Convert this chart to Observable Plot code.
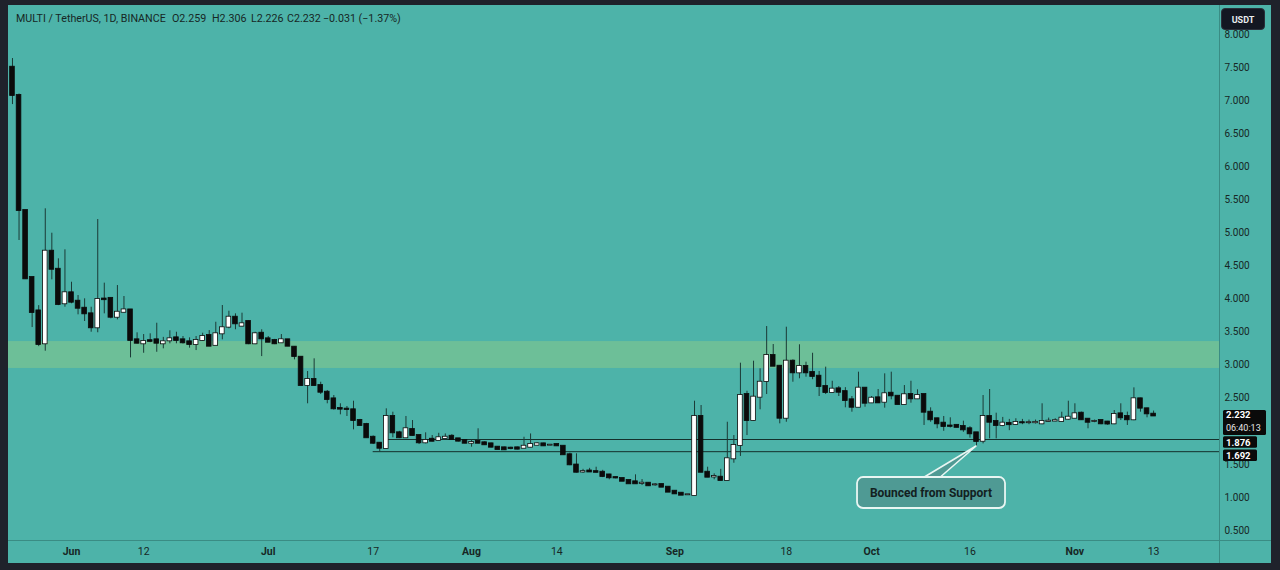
<!DOCTYPE html>
<html>
<head>
<meta charset="utf-8">
<script src="https://cdn.jsdelivr.net/npm/d3@7"></script>
<script src="https://cdn.jsdelivr.net/npm/@observablehq/plot@0.6"></script>
<style>
  html, body { margin: 0; padding: 0; background: #1f222b; }
  #wrap { position: relative; width: 1280px; height: 570px; overflow: hidden; font-family: Roboto, "Noto Sans", sans-serif; }
  #pane { position: absolute; left: 8px; top: 5px; width: 1263px; height: 558px; background: #4db3a9; }
  .sepV { position: absolute; left: 1219px; top: 5px; width: 1px; height: 558px; background: #3a8c84; }
  .sepH { position: absolute; left: 8px; top: 540px; width: 1263px; height: 1px; background: #3a8c84; }
  #chart { position: absolute; left: 0; top: 0; }
  .hdr { position: absolute; top: 12px; font-size: 10.7px; color: #172725; white-space: nowrap; line-height: 14px; }
  #usdt { position: absolute; left: 1221px; top: 8px; width: 44px; height: 22px; background: #131722; border-radius: 4px;
          color: #e8ecef; font-size: 9px; font-weight: bold; line-height: 22px; text-align: center; border: 1px solid #2a2f3a; box-sizing: border-box; }
</style>
</head>
<body>
<div id="wrap">
  <div id="pane"></div>
  <div class="sepV"></div>
  <div class="sepH"></div>
  <div id="chart"></div>
  <div class="hdr" style="left:16px">MULTI / TetherUS, 1D, BINANCE</div>
  <div class="hdr" style="left:172px">O2.259</div>
  <div class="hdr" style="left:212px">H2.306</div>
  <div class="hdr" style="left:251px">L2.226</div>
  <div class="hdr" style="left:287px">C2.232</div>
  <div class="hdr" style="left:323px">−0.031 (−1.37%)</div>
  <div id="usdt">USDT</div>
</div>
<script>
// ---------- data ----------
const firstDay = "2023-05-23";
const openP = [
7.505,7.077,5.338,4.325,3.82,3.323,4.723,4.45,3.928,4.094,3.967,3.861,3.776,3.565,4.0,4.01,3.725,3.80,3.835,3.383,
3.323,3.37,3.383,3.323,3.368,3.413,3.383,3.353,3.312,3.373,3.448,3.30,3.474,3.575,3.725,3.59,3.66,3.323,3.483,3.398,
3.373,3.338,3.383,3.272,3.12,2.692,2.783,2.692,2.591,2.49,2.345,2.335,2.325,2.163,2.103,1.91,1.82,1.74,2.224,1.977,
1.902,2.027,1.936,1.826,1.88,1.861,1.89,1.925,1.886,1.86,1.82,1.846,1.826,1.81,1.76,1.75,1.745,1.75,1.744,1.76,
1.79,1.81,1.79,1.80,1.774,1.645,1.49,1.385,1.40,1.39,1.381,1.34,1.30,1.286,1.256,1.236,1.21,1.215,1.19,1.195,
1.155,1.094,1.064,1.04,1.029,2.224,1.381,1.31,1.306,1.256,1.584,1.785,2.556,2.163,2.516,2.753,3.146,2.984,2.198,3.06,
2.884,2.98,2.89,2.833,2.677,2.586,2.642,2.60,2.476,2.364,2.652,2.43,2.506,2.44,2.576,2.53,2.405,2.556,2.491,2.556,
2.289,2.189,2.123,2.08,2.09,2.072,2.038,1.977,1.85,2.224,2.148,2.088,2.12,2.103,2.13,2.13,2.13,2.113,2.15,2.155,
2.148,2.183,2.198,2.274,2.183,2.15,2.163,2.14,2.113,2.264,2.224,2.174,2.491,2.34,2.259];
const highP = [
7.636,7.10,5.34,4.33,3.90,5.364,4.995,4.608,4.744,4.254,4.053,4.003,3.876,5.202,4.24,4.02,4.204,4.038,3.84,3.489,
3.463,3.474,3.634,3.42,3.52,3.498,3.433,3.413,3.433,3.483,3.523,3.649,3.902,3.816,3.776,3.786,3.67,3.498,3.535,3.433,
3.39,3.463,3.39,3.28,3.13,2.904,3.096,2.742,2.617,2.541,2.416,2.375,2.455,2.18,2.12,1.93,1.83,2.34,2.289,2.0,
2.224,2.163,1.94,1.977,1.936,1.97,1.96,1.95,1.89,1.87,1.87,2.038,1.84,1.82,1.77,1.76,1.76,1.76,1.91,1.96,
1.83,1.82,1.80,1.81,1.78,1.67,1.66,1.425,1.44,1.457,1.41,1.35,1.31,1.29,1.26,1.342,1.27,1.22,1.21,1.20,
1.16,1.10,1.07,1.045,2.455,2.39,1.457,1.357,1.425,2.137,1.936,3.03,2.606,3.06,2.945,3.584,3.312,2.99,3.574,3.08,
3.308,3.045,3.18,2.904,2.97,2.757,2.677,2.66,2.526,2.894,2.66,2.526,2.632,2.869,2.894,2.54,2.692,2.757,2.627,2.56,
2.355,2.20,2.224,2.204,2.10,2.153,2.07,1.98,2.541,2.632,2.274,2.21,2.18,2.19,2.18,2.17,2.17,2.416,2.20,2.19,
2.289,2.455,2.416,2.29,2.19,2.17,2.17,2.15,2.314,2.416,2.29,2.657,2.50,2.35,2.306];
const lowP = [
6.94,4.885,4.30,3.569,3.28,3.211,4.29,3.90,3.876,3.928,3.761,3.66,3.498,3.49,3.776,3.70,3.685,3.79,3.11,3.32,
3.18,3.34,3.195,3.247,3.323,3.323,3.32,3.257,3.221,3.36,3.28,3.297,3.383,3.55,3.535,3.58,3.31,3.31,3.13,3.34,
3.31,3.33,3.28,3.08,2.68,2.416,2.68,2.556,2.416,2.32,2.249,2.224,2.022,2.08,1.90,1.80,1.692,1.73,1.902,1.89,
1.89,1.93,1.80,1.81,1.84,1.855,1.88,1.87,1.84,1.81,1.76,1.81,1.79,1.75,1.72,1.71,1.72,1.72,1.74,1.75,
1.78,1.77,1.78,1.77,1.64,1.48,1.37,1.365,1.38,1.37,1.30,1.267,1.28,1.24,1.20,1.20,1.18,1.17,1.17,1.15,
1.075,1.05,1.03,1.03,1.025,1.37,1.30,1.267,1.25,1.25,1.517,1.62,1.936,2.15,2.325,2.556,2.98,2.113,2.137,2.742,
2.794,2.818,2.78,2.526,2.556,2.58,2.526,2.355,2.289,2.36,2.364,2.42,2.42,2.35,2.476,2.40,2.40,2.425,2.48,2.088,
2.137,2.038,2.0,2.05,2.05,1.985,1.896,1.77,1.81,1.886,1.886,2.07,2.01,2.09,2.10,2.10,2.11,2.10,2.14,2.145,
2.14,2.17,2.19,2.165,2.038,2.13,2.10,2.09,2.10,2.163,2.088,2.16,2.289,2.204,2.226];
const closeP = [
7.077,5.338,4.305,3.796,3.312,4.723,4.45,3.917,4.094,3.952,3.861,3.776,3.565,3.993,3.99,3.725,3.80,3.835,3.373,3.332,
3.358,3.36,3.332,3.353,3.398,3.373,3.338,3.312,3.373,3.433,3.287,3.474,3.565,3.725,3.625,3.625,3.323,3.474,3.398,3.347,
3.323,3.383,3.287,3.13,2.692,2.783,2.692,2.591,2.481,2.34,2.335,2.33,2.163,2.088,1.902,1.82,1.744,2.224,1.977,1.902,
2.038,1.936,1.826,1.861,1.85,1.902,1.91,1.876,1.851,1.82,1.83,1.82,1.796,1.76,1.725,1.72,1.74,1.73,1.774,1.80,
1.81,1.78,1.79,1.78,1.645,1.493,1.381,1.39,1.385,1.38,1.316,1.297,1.295,1.245,1.206,1.206,1.215,1.176,1.19,1.155,
1.08,1.054,1.034,1.04,2.224,1.381,1.306,1.316,1.256,1.584,1.785,2.541,2.163,2.516,2.742,3.146,2.984,2.198,3.06,2.884,
2.98,2.884,2.83,2.677,2.586,2.637,2.591,2.466,2.364,2.652,2.425,2.50,2.43,2.567,2.536,2.405,2.552,2.491,2.54,2.289,
2.174,2.113,2.072,2.075,2.06,2.022,1.962,1.846,2.224,2.137,2.088,2.123,2.10,2.133,2.128,2.13,2.135,2.148,2.153,2.16,
2.198,2.213,2.264,2.174,2.137,2.15,2.113,2.11,2.254,2.204,2.174,2.491,2.35,2.264,2.232];

const supportZone = [{lo: 2.95, hi: 3.357}];
const levelValues = [1.876, 1.692];
const levelStarts = ["2023-07-19", "2023-07-17"];
// 2.000 sits fully under the last-price tag in the reference, so it is not drawn
const yTicks = [0.5,1,1.5,2.5,3,3.5,4,4.5,5,5.5,6,6.5,7,7.5,8];
const monthTickDates = ["2023-06-01","2023-07-01","2023-08-01","2023-09-01","2023-10-01","2023-11-01"];
const monthTickLabels = ["Jun","Jul","Aug","Sep","Oct","Nov"];
const dayTickDates = ["2023-06-12","2023-07-17","2023-08-14","2023-09-18","2023-10-16","2023-11-13"];
const dayTickLabels = ["12","17","14","18","16","13"];
const lastPrice = 2.232;
const lastPriceCountdown = "06:40:13";
const annotationText = "Bounced from Support";
const annotationDate = "2023-10-17";
const annotationValue = 1.77;

// ---------- build ----------
const start = new Date(firstDay + "T00:00:00Z");
const candles = openP.map((o, i) => ({
  date: d3.utcDay.offset(start, i), open: o, high: highP[i], low: lowP[i], close: closeP[i]
}));
const levels = levelValues.map((v, i) => ({value: v, from: new Date(levelStarts[i] + "T00:00:00Z")}));
const monthTicks = monthTickDates.map((d, i) => ({date: new Date(d + "T00:00:00Z"), label: monthTickLabels[i]}));
const dayTicks = dayTickDates.map((d, i) => ({date: new Date(d + "T00:00:00Z"), label: dayTickLabels[i]}));

const xStart = new Date(Date.UTC(2023, 4, 22, 9, 26));
const xEnd = new Date(Date.UTC(2023, 10, 23, 1, 12));
const H = 3600e3;
const ink = "#172725";

const chart = Plot.plot({
  width: 1280, height: 570,
  marginLeft: 8, marginRight: 61, marginTop: 5, marginBottom: 30,
  style: {background: "transparent", fontFamily: "Roboto, 'Noto Sans', sans-serif", overflow: "visible"},
  x: {type: "utc", domain: [xStart, xEnd], axis: null},
  y: {domain: [0.349, 8.438], axis: null},
  marks: [
    Plot.rect(supportZone, {y1: "lo", y2: "hi", fill: "#6dbf98"}),
    Plot.ruleY(levels, {y: "value", x1: "from", x2: () => xEnd, stroke: "#14302c", strokeWidth: 1}),
    Plot.ruleX(candles, {x: "date", y1: "low", y2: "high", stroke: "#1b3a36", strokeWidth: 1}),
    Plot.rect(candles, {
      x1: d => new Date(+d.date - 8.5 * H), x2: d => new Date(+d.date + 8.5 * H),
      y1: d => Math.max(d.open, d.close), y2: d => Math.min(d.open, d.close),
      fill: d => d.close >= d.open ? "#ffffff" : "#0b0b0b",
      stroke: "#0b0b0b", strokeWidth: 0.8, insetTop: -0.5, insetBottom: -0.5
    }),
    Plot.axisY(yTicks, {anchor: "right", tickSize: 0, tickPadding: 5, tickFormat: d3.format(".3f"),
      fontSize: 10, fill: ink, label: null}),
    Plot.text(monthTicks, {x: "date", text: "label", frameAnchor: "bottom", dy: 11, lineAnchor: "middle",
      fontSize: 10.5, fontWeight: "bold", fill: ink}),
    Plot.text(dayTicks, {x: "date", text: "label", frameAnchor: "bottom", dy: 11, lineAnchor: "middle",
      fontSize: 10.5, fill: ink})
  ]
});
document.getElementById("chart").appendChild(chart);

const xs = chart.scale("x"), ys = chart.scale("y");
const svg = d3.select(chart);

// annotation callout
const tipX = xs.apply(new Date(annotationDate + "T00:00:00Z"));
const tipY = ys.apply(annotationValue);
const boxX = tipX - 119, boxY = tipY + 31, boxW = 148, boxH = 31;
const g = svg.append("g");
g.append("polygon")
  .attr("points", `${tipX - 55},${boxY + 2} ${tipX},${tipY} ${tipX - 38},${boxY + 2}`)
  .attr("fill", "#4f9a94").attr("stroke", "#e9f6f3").attr("stroke-width", 1.6).attr("stroke-linejoin", "round");
g.append("rect").attr("x", boxX).attr("y", boxY).attr("width", boxW).attr("height", boxH)
  .attr("rx", 6).attr("fill", "#4f9a94").attr("stroke", "#e9f6f3").attr("stroke-width", 1.8);
g.append("text").attr("x", boxX + boxW / 2).attr("y", boxY + boxH / 2).attr("dy", "0.35em")
  .attr("text-anchor", "middle").attr("font-size", 12).attr("font-weight", "bold")
  .attr("fill", "#13211f").text(annotationText);

// price tags on the right axis
const tagX = 1223;
const py = ys.apply(lastPrice);
const tags = svg.append("g").attr("font-family", "Roboto, sans-serif").attr("text-anchor", "start");
tags.append("rect").attr("x", tagX).attr("y", py - 5.5).attr("width", 43).attr("height", 25).attr("rx", 1.5).attr("fill", "#0a0a0a");
tags.append("text").attr("x", tagX + 3).attr("y", py - 1).attr("dy", "0.35em").attr("font-size", 9.5).attr("font-weight", "bold")
  .attr("fill", "#fff").text(d3.format(".3f")(lastPrice));
tags.append("text").attr("x", tagX + 3).attr("y", py + 12.5).attr("dy", "0.35em").attr("font-size", 9)
  .attr("fill", "#e6e6e6").text(lastPriceCountdown);
const shift = [2.8, 3.8];
levelValues.forEach((v, i) => {
  const yy = ys.apply(v) + shift[i];
  tags.append("rect").attr("x", tagX).attr("y", yy - 5.5).attr("width", 34).attr("height", 11.5).attr("rx", 1.5).attr("fill", "#0a0a0a");
  tags.append("text").attr("x", tagX + 3).attr("y", yy + 0.8).attr("dy", "0.35em").attr("font-size", 9.5).attr("font-weight", "bold")
    .attr("fill", "#fff").text(d3.format(".3f")(v));
});
</script>
</body>
</html>
